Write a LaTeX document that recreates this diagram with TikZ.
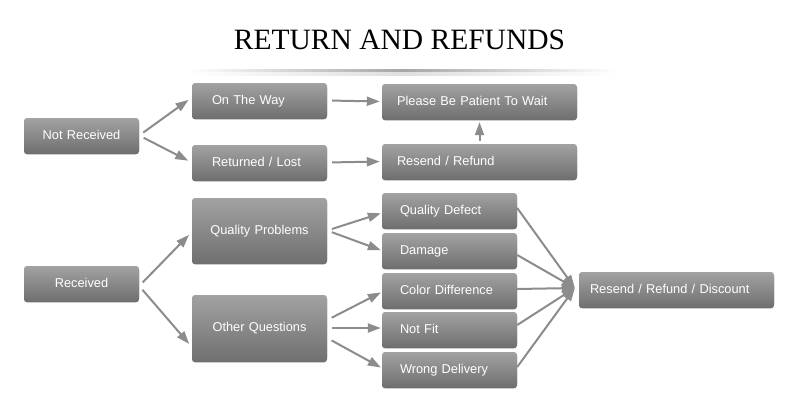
\documentclass[tikz,border=0pt]{standalone}
\usepackage{fontspec}
\setmainfont{Liberation Serif}
\newfontfamily\tilefont{Liberation Sans}
\usepackage{xcolor}
\usepackage{tikz}
\usetikzlibrary{arrows.meta,calc,shadows}
\definecolor{tiletop}{HTML}{A2A2A2}
\definecolor{tilebot}{HTML}{707070}
\definecolor{arrowgray}{HTML}{8C8C8C}

\begin{document}
\begin{tikzpicture}[x=1pt,y=-1pt,
    tile/.style={rounded corners=3pt, top color=tiletop, bottom color=tilebot,
      text=white, font=\tilefont\fontsize{12.8}{15}\selectfont, minimum height=35pt,
      text height=9.5pt, text depth=2.5pt, inner ysep=0pt,
      drop shadow={shadow xshift=0pt, shadow yshift=-1.3pt, opacity=0.75, fill=black!75}},
    tilec/.style={tile, align=center, inner xsep=4pt},
    tilel/.style={tile, align=left},
    arr/.style={-{Triangle[length=13pt,width=9pt]}, line width=2pt, arrowgray, shorten <=5pt, shorten >=4pt}]
  \useasboundingbox (0,0) rectangle (800,400);
  \fill[white] (0,0) rectangle (800,400);
  \node[font=\fontsize{29.5}{32}\selectfont, anchor=base] (title) at (399.5,49) {RETURN AND REFUNDS};
  \shade[left color=white, right color=white, middle color=gray!70] (187,69.5) rectangle (617,72);
  \shade[left color=white, right color=white, middle color=gray!25] (187,72) rectangle (617,75);

  % not received
  \node[tilec, text width=107pt] (nr) at (81.5,135.5) {Not Received};
  \node[tilel, inner xsep=20pt, text width=95pt] (way) at (259.5,100.5) {On The Way};
  \node[tilel, inner xsep=20pt, text width=95pt] (lost) at (259.5,162.5) {Returned / Lost};
  \node[tilel, inner xsep=15pt, text width=165pt] (wait) at (479.5,101.5) {Please Be Patient To Wait};
  \node[tilel, inner xsep=15pt, text width=165pt] (resend) at (479.5,161.5) {Resend / Refund};

  % received
  \node[tilec, text width=107pt] (rec) at (81.5,283.5) {Received};
  \node[tilec, text width=127pt, minimum height=65pt] (qp) at (259.5,230.5) {Quality Problems};
  \node[tilec, text width=127pt, minimum height=66pt] (oq) at (259.5,328) {Other Questions};
  \node[tilel, inner xsep=18pt, text width=99pt] (qd) at (449.5,210.5) {Quality Defect};
  \node[tilel, inner xsep=18pt, text width=99pt] (dmg) at (449.5,250.5) {Damage};
  \node[tilel, inner xsep=18pt, text width=99pt] (cd) at (449.5,290.5) {Color Difference};
  \node[tilel, inner xsep=18pt, text width=99pt] (nf) at (449.5,329.5) {Not Fit};
  \node[tilel, inner xsep=18pt, text width=99pt] (wd) at (449.5,369.5) {Wrong Delivery};
  \node[tilel, inner xsep=11pt, text width=173pt] (fin) at (676.5,289.5) {Resend / Refund / Discount};

  \draw[arr] (nr.east) -- ([yshift=3pt]way.west);
  \draw[arr] (nr.east) -- (lost.west);
  \draw[arr, shorten >=2pt] (way.east) -- (wait.west);
  \draw[arr, shorten >=2pt] (lost.east) -- (resend.west);
  \draw[arr, shorten <=3pt, shorten >=3pt] (resend.north) -- (wait.south);

  \draw[arr] ([yshift=-2.5pt]rec.east) -- ([yshift=-1.5pt]qp.west);
  \draw[arr] ([yshift=-2.5pt]rec.east) -- ([yshift=-19pt]oq.west);
  \draw[arr, shorten >=1pt] (qp.east) -- ([yshift=-2.5pt]qd.west);
  \draw[arr, shorten >=1pt] (qp.east) -- (dmg.west);
  \draw[arr, shorten >=1pt] ([yshift=8pt]oq.east) -- ([yshift=-1.5pt]cd.west);
  \draw[arr, shorten >=1pt] (oq.east) -- ([yshift=1.5pt]nf.west);
  \draw[arr, shorten >=1pt] ([yshift=-10pt]oq.east) -- ([yshift=1.5pt]wd.west);

  \coordinate (finin) at ([xshift=-4pt,yshift=1.5pt]fin.west);
  \draw[arr, shorten <=0pt, shorten >=0pt] ([yshift=2.5pt]qd.east) -- (finin);
  \draw[arr, shorten <=0pt, shorten >=0pt] ([yshift=-4.5pt]dmg.east) -- (finin);
  \draw[arr, shorten <=0pt, shorten >=0pt] ([yshift=1.5pt]cd.east) -- (finin);
  \draw[arr, shorten <=0pt, shorten >=0pt] ([yshift=4.5pt]nf.east) -- (finin);
  \draw[arr, shorten <=0pt, shorten >=0pt] ([yshift=2.5pt]wd.east) -- (finin);
\end{tikzpicture}
\end{document}
